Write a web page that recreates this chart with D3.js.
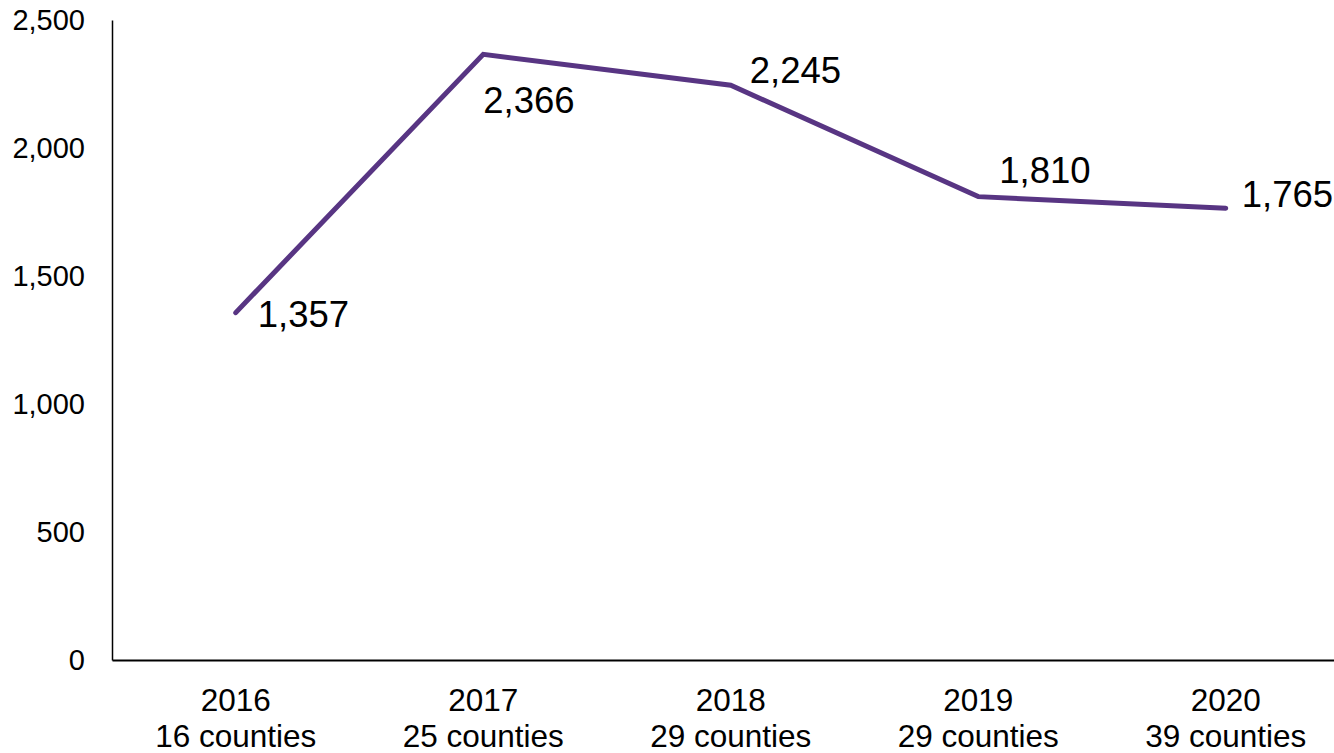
<!DOCTYPE html>
<html>
<head>
<meta charset="utf-8">
<script src="https://cdn.jsdelivr.net/npm/d3@7"></script>
<style>
  html, body { margin: 0; padding: 0; background: #fff; }
  svg { display: block; font-family: "Liberation Sans", Arial, sans-serif; }
</style>
</head>
<body>
<svg id="chart" width="1334" height="753"></svg>
<script>
// Data
const years = ["2016", "2017", "2018", "2019", "2020"];
const countyLabels = ["16 counties", "25 counties", "29 counties", "29 counties", "39 counties"];
const values = [1357, 2366, 2245, 1810, 1765];
const yTicks = [0, 500, 1000, 1500, 2000, 2500];

// Label placement (layout, not data)
const labelOffsets = [
  { dx: 22, dy: 14 },
  { dx: 0, dy: 59 },
  { dx: 19, dy: -2 },
  { dx: 21, dy: -14 },
  { dx: 16, dy: -1 }
];

const svg = d3.select("#chart");
const mLeft = 112, mTop = 20, mBottom = 660;
const step = 247.5;

const x = d3.scaleBand()
  .domain(years)
  .range([mLeft, mLeft + step * years.length])
  .paddingInner(0).paddingOuter(0);

const y = d3.scaleLinear().domain([0, 2500]).range([mBottom, mTop]);

// Y axis
const yAxis = svg.append("g")
  .attr("transform", `translate(${mLeft},0)`)
  .call(d3.axisLeft(y).tickValues(yTicks).tickFormat(d3.format(",")).tickSize(0).tickPadding(27));
yAxis.select(".domain").attr("stroke", "#000").attr("stroke-width", 1.5);
yAxis.selectAll("text")
  .attr("font-size", 29)
  .attr("fill", "#000")
  .attr("font-family", "Liberation Sans, Arial, sans-serif");

// X axis
const xAxis = svg.append("g")
  .attr("transform", `translate(0,${mBottom})`)
  .call(d3.axisBottom(x).tickSize(0).tickFormat(""));
xAxis.select(".domain").attr("stroke", "#000").attr("stroke-width", 2);

const xLabels = xAxis.selectAll(".tick").append("text")
  .attr("fill", "#000")
  .attr("font-size", 31.5)
  .attr("text-anchor", "middle")
  .attr("font-family", "Liberation Sans, Arial, sans-serif");
xLabels.append("tspan").attr("x", 0).attr("y", 51).text(d => d);
xLabels.append("tspan").attr("x", 0).attr("y", 87).text((d, i) => countyLabels[i]);

// Line
const pts = years.map((yr, i) => ({ yr, v: values[i], i }));
const line = d3.line()
  .x(d => x(d.yr) + x.bandwidth() / 2)
  .y(d => y(d.v));

svg.append("path")
  .datum(pts)
  .attr("d", line)
  .attr("fill", "none")
  .attr("stroke", "#583583")
  .attr("stroke-width", 5)
  .attr("stroke-linecap", "round")
  .attr("stroke-linejoin", "miter");

// Data labels
const fmt = d3.format(",");
svg.append("g").selectAll("text")
  .data(pts)
  .join("text")
  .attr("x", d => x(d.yr) + x.bandwidth() / 2 + labelOffsets[d.i].dx)
  .attr("y", d => y(d.v) + labelOffsets[d.i].dy)
  .attr("font-size", 36.5)
  .attr("fill", "#000")
  .text(d => fmt(d.v));
</script>
</body>
</html>
